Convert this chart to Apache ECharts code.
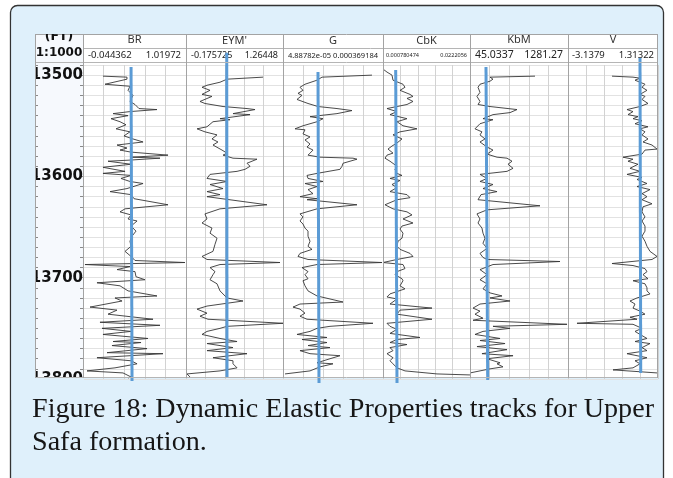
<!DOCTYPE html>
<html>
<head>
<meta charset="utf-8">
<title>Dynamic Elastic Properties tracks</title>
<script src="https://cdn.jsdelivr.net/npm/echarts@6.0.0/dist/echarts.min.js"></script>
<style>
  html, body { margin: 0; padding: 0; background: #ffffff; }
  #chart { width: 673px; height: 478px; }
</style>
</head>
<body>
<div id="chart"></div>
<script>
// ---------- depth scale (ft) ----------
const depthMin = 13490;
const depthMax = 13800;
const depthStep = 10;
const depthLabels = [13500, 13600, 13700, 13800];

// ---------- track headers ----------
const trackNames = ['BR', "EYM'", 'G', 'CbK', 'KbM', 'V'];
const scaleMinLabels = ['-0.044362', '-0.175725', '4.88782e-05', '0.000780474', '45.0337', '-3.1379'];
const scaleMaxLabels = ['1.01972', '1.26448', '0.000369184', '0.0222056', '1281.27', '1.31322'];
const scaleMin = [-0.044362, -0.175725, 4.88782e-05, 0.000780474, 45.0337, -3.1379];
const scaleMax = [1.01972, 1.26448, 0.000369184, 0.0222056, 1281.27, 1.31322];

// ---------- log curves (depth in ft, value in track units) ----------
const brDepth = [13501,13502,13504,13509,13511,13515,13520,13526,13529,13533,
  13534,13536,13538,13540,13543,13546,13549,13553,13556,13560,
  13563,13566,13569,13572,13574,13576,13579,13581,13582,13584,
  13585,13588,13591,13595,13597,13599,13602,13605,13607,13612,
  13615,13618,13622,13628,13632,13635,13638,13642,13644,13649,
  13654,13659,13664,13669,13674,13679,13683,13685,13687,13689,
  13692,13694,13699,13702,13705,13708,13713,13718,13720,13723,
  13729,13732,13736,13741,13744,13747,13750,13753,13756,13760,
  13763,13764,13767,13770,13774,13775,13779,13782,13785,13789,
  13792,13794,13798,13799];
const brValue = [0.162,0.410,0.410,0.183,0.441,0.421,0.472,0.441,0.493,0.534,
  0.720,0.441,0.266,0.421,0.245,0.338,0.400,0.297,0.441,0.379,
  0.472,0.576,0.307,0.410,0.338,0.452,0.834,0.462,0.751,0.421,
  0.214,0.452,0.162,0.390,0.162,0.452,0.348,0.441,0.576,0.410,
  0.235,0.452,0.483,0.834,0.390,0.338,0.452,0.421,0.514,0.452,
  0.503,0.462,0.441,0.452,0.390,0.452,0.493,1.009,-0.024,0.441,
  0.307,0.493,0.503,0.596,0.100,0.338,0.421,0.720,0.286,0.359,
  0.028,0.307,0.214,0.679,0.131,0.751,0.152,0.452,0.162,0.627,
  0.266,0.555,0.255,0.617,0.204,0.782,0.100,0.452,0.514,0.286,
  -0.003,0.369,0.452,0.421];

const eymDepth = [13502,13504,13507,13510,13512,13515,13519,13521,13526,13528,
  13531,13533,13534,13538,13539,13543,13544,13546,13551,13553,
  13556,13559,13563,13566,13569,13574,13577,13579,13582,13583,
  13587,13590,13593,13595,13598,13602,13605,13608,13612,13615,
  13618,13620,13628,13632,13637,13642,13646,13651,13656,13661,
  13667,13674,13679,13682,13685,13687,13690,13694,13697,13702,
  13706,13713,13720,13723,13728,13731,13735,13738,13741,13745,
  13748,13750,13753,13756,13760,13763,13765,13769,13772,13775,
  13779,13782,13785,13789,13792,13795,13798];
const eymValue = [0.968,0.433,0.329,0.136,0.062,0.181,0.062,0.210,0.032,0.106,
  0.374,0.730,0.849,0.522,0.775,0.329,0.478,0.225,0.136,-0.012,
  0.106,0.285,0.210,0.299,0.225,0.359,0.433,0.374,0.522,0.878,
  0.730,0.775,0.700,0.582,0.181,0.136,0.433,0.181,0.374,0.136,
  0.329,0.136,1.027,0.329,0.106,0.136,0.062,0.210,0.181,0.285,
  0.255,0.225,0.062,0.136,1.220,0.329,0.181,0.255,0.225,0.181,
  0.285,0.329,0.433,0.671,0.136,-0.012,0.136,0.032,0.151,1.265,
  0.433,0.329,0.136,0.062,0.329,0.582,0.136,0.522,0.136,0.730,
  0.225,0.522,0.522,0.582,0.329,-0.161,-0.116];

const gDepth = [13500,13502,13505,13509,13512,13515,13518,13520,13524,13528,
  13531,13533,13535,13538,13541,13543,13546,13550,13553,13554,
  13558,13561,13564,13568,13571,13574,13577,13579,13581,13582,
  13583,13587,13590,13593,13597,13599,13602,13605,13607,13610,
  13613,13617,13620,13622,13623,13628,13632,13637,13640,13644,
  13647,13651,13654,13659,13664,13669,13672,13676,13679,13682,
  13685,13687,13690,13694,13697,13701,13703,13708,13713,13718,
  13721,13724,13726,13729,13731,13735,13738,13741,13745,13748,
  13750,13753,13756,13759,13761,13764,13767,13769,13772,13775,
  13777,13780,13784,13785,13788,13792,13795];
const gValue = [3.339e-4,1.738e-4,1.578e-4,1.193e-4,1.033e-4,1.129e-4,0.969e-4,1.097e-4,0.937e-4,1.290e-4,
  1.610e-4,2.218e-4,2.699e-4,2.218e-4,1.354e-4,1.770e-4,1.578e-4,1.129e-4,0.873e-4,1.193e-4,
  1.129e-4,1.354e-4,1.193e-4,1.354e-4,1.258e-4,1.450e-4,1.354e-4,1.290e-4,1.674e-4,2.731e-4,
  2.859e-4,2.411e-4,2.379e-4,2.314e-4,1.578e-4,1.258e-4,1.290e-4,1.770e-4,1.193e-4,1.578e-4,
  1.290e-4,1.450e-4,1.033e-4,1.578e-4,1.258e-4,2.859e-4,1.578e-4,1.033e-4,1.129e-4,1.033e-4,
  1.129e-4,1.193e-4,1.290e-4,1.290e-4,1.354e-4,1.290e-4,1.418e-4,1.033e-4,0.969e-4,1.290e-4,
  3.660e-4,1.578e-4,1.097e-4,1.290e-4,1.193e-4,1.290e-4,1.129e-4,1.193e-4,1.290e-4,1.578e-4,
  1.994e-4,2.411e-4,1.033e-4,0.809e-4,1.033e-4,1.193e-4,1.033e-4,1.258e-4,3.371e-4,1.994e-4,
  1.578e-4,1.354e-4,0.937e-4,1.898e-4,1.097e-4,1.898e-4,1.290e-4,1.994e-4,1.033e-4,1.354e-4,
  2.314e-4,1.994e-4,1.578e-4,2.090e-4,1.674e-4,1.354e-4,0.553e-4];

const cbkDepth = [13494,13497,13500,13505,13509,13512,13515,13519,13521,13523,
  13526,13529,13533,13536,13539,13543,13546,13550,13553,13556,
  13559,13563,13567,13570,13573,13577,13579,13582,13585,13590,
  13593,13597,13599,13602,13604,13608,13611,13615,13618,13621,
  13623,13628,13632,13635,13638,13642,13646,13649,13652,13656,
  13661,13664,13669,13672,13676,13679,13682,13685,13687,13691,
  13694,13697,13701,13703,13708,13711,13716,13719,13721,13726,
  13730,13732,13736,13741,13745,13748,13751,13755,13759,13761,
  13764,13766,13769,13772,13775,13779,13782,13785,13789,13792,
  13795,13796];
const cbkValue = [0.780e-3,1.765e-3,2.996e-3,3.243e-3,5.705e-3,6.198e-3,4.966e-3,7.429e-3,8.168e-3,6.690e-3,
  8.168e-3,6.690e-3,1.765e-3,4.228e-3,2.504e-3,6.690e-3,4.228e-3,5.705e-3,9.153e-3,4.966e-3,
  3.243e-3,5.459e-3,4.228e-3,2.996e-3,2.011e-3,3.243e-3,1.765e-3,1.273e-3,2.504e-3,4.228e-3,
  3.735e-3,4.228e-3,5.459e-3,2.504e-3,4.966e-3,2.996e-3,4.228e-3,2.504e-3,6.690e-3,7.429e-3,
  4.228e-3,1.273e-3,3.243e-3,6.690e-3,7.922e-3,5.705e-3,8.168e-3,5.459e-3,4.966e-3,5.705e-3,
  5.459e-3,4.474e-3,4.228e-3,4.966e-3,7.429e-3,8.168e-3,4.228e-3,0.780e-3,5.705e-3,6.198e-3,
  4.228e-3,3.735e-3,5.459e-3,5.705e-3,4.966e-3,6.198e-3,2.504e-3,1.765e-3,4.228e-3,2.504e-3,
  12.847e-3,4.966e-3,4.228e-3,12.847e-3,1.765e-3,2.504e-3,4.228e-3,2.504e-3,9.892e-3,4.228e-3,
  2.504e-3,6.690e-3,2.504e-3,3.243e-3,1.765e-3,3.243e-3,2.504e-3,3.243e-3,4.228e-3,6.198e-3,
  14.078e-3,22.205e-3];

const kbmDepth = [13501,13502,13504,13506,13509,13512,13517,13521,13526,13529,
  13531,13534,13537,13539,13543,13544,13548,13553,13556,13559,
  13563,13566,13571,13574,13578,13581,13582,13585,13588,13592,
  13595,13598,13602,13605,13608,13612,13615,13618,13623,13629,
  13633,13637,13642,13646,13651,13656,13661,13666,13671,13676,
  13680,13682,13684,13687,13692,13697,13702,13706,13711,13715,
  13718,13720,13723,13726,13730,13733,13736,13740,13742,13746,
  13748,13750,13753,13756,13760,13762,13765,13768,13771,13775,
  13777,13780,13784,13785,13788,13790,13794];
const kbmValue = [865,297,335,297,171,146,171,133,171,146,
  297,638,550,335,209,335,171,108,196,171,
  234,171,260,335,260,386,512,575,524,588,
  512,171,260,171,335,209,386,184,146,928,
  260,133,171,146,196,209,234,209,260,171,
  209,260,1180,335,171,260,171,260,209,297,
  449,297,550,171,83,171,108,209,83,1269,
  335,550,209,108,424,171,487,133,512,196,
  588,260,424,386,461,297,45];

const vDepth = [13501,13502,13503,13505,13509,13512,13515,13519,13521,13524,
  13528,13531,13534,13536,13539,13541,13543,13545,13548,13551,
  13553,13556,13559,13563,13566,13569,13573,13574,13578,13581,
  13583,13585,13588,13592,13595,13598,13601,13603,13607,13610,
  13613,13617,13620,13623,13627,13630,13635,13640,13644,13649,
  13654,13659,13664,13669,13674,13679,13682,13686,13688,13691,
  13694,13697,13701,13703,13706,13710,13713,13716,13720,13723,
  13726,13730,13733,13736,13739,13741,13745,13746,13750,13753,
  13756,13760,13763,13765,13769,13772,13775,13779,13782,13785,
  13789,13791,13794];
const vValue = [-0.962,0.077,0.423,0.176,0.670,0.522,0.769,0.423,0.670,0.522,
  0.819,0.423,-0.220,0.077,-0.171,0.324,0.077,0.522,0.176,0.819,
  0.423,0.670,0.522,0.819,0.571,1.017,1.264,0.670,0.522,-0.418,
  0.077,-0.171,0.324,-0.072,0.423,-0.220,0.522,0.275,0.769,0.275,
  0.918,0.522,0.769,0.522,1.017,0.571,0.522,0.670,0.522,0.670,
  0.670,0.522,0.670,0.769,0.918,1.264,1.017,-0.962,0.077,0.670,
  0.769,0.571,0.819,0.077,0.670,0.769,0.769,0.918,0.275,-0.072,
  0.176,0.077,0.423,0.670,-0.072,0.275,-2.693,0.077,0.522,0.176,
  0.423,0.769,0.176,0.918,0.522,0.769,-0.220,0.769,0.176,0.423,
  0.077,-0.912,1.264];

// ---------- cut-off reference lines (value at top / bottom end, depth of ends) ----------
const cutValueTop = [0.452, 0.429, 1.610e-4, 3.908e-3, 246.9, 0.423];
const cutValueBottom = [0.462, 0.433, 1.642e-4, 4.228e-3, 268.3, 0.458];
const cutDepthTop = [13492, 13478, 13497, 13495, 13492, 13483];
const cutDepthBottom = [13802, 13798, 13804, 13804, 13801, 13794];

// ---------- caption ----------
const captionLines = ['Figure 18: Dynamic Elastic Properties tracks for Upper', 'Safa formation.'];

// ---------- layout ----------
const trackDepths = [brDepth, eymDepth, gDepth, cbkDepth, kbmDepth, vDepth];
const trackValues = [brValue, eymValue, gValue, cbkValue, kbmValue, vValue];
const panel = { left: 35, right: 658, top: 34, titleBottom: 48, headerBottom: 63, bottom: 378 };
const plotTop = 65, plotBottom = 379;          // depth 13490 .. 13800
const trackEdges = [83, 186, 283, 383, 470, 568, 658];
const scaleFontSize = [9.5, 9, 7.5, 5.5, 10.5, 9.5];
const scaleLabelMargin = [5, 5, 5.5, 7, 4, 5];
const scaleLabelPad = [5, 5, 5, 3, 5, 4];
const pageBlue = '#dff0fb';
const sepColor = '#a3a3a3';
const uiFont = '"Noto Sans", "Open Sans", sans-serif';

const plotHeight = plotBottom - plotTop;
const grids = [{ left: panel.left, top: plotTop, width: trackEdges[0] - panel.left, height: plotHeight }];
const xAxes = [{ type: 'value', gridIndex: 0, min: 0, max: 1, show: false }];
const depthAxisBase = {
  type: 'value', inverse: true, min: depthMin, max: depthMax, interval: depthStep,
  axisLine: { show: false }, splitLine: { show: false },
  axisTick: { show: true, inside: true, length: 3, lineStyle: { color: '#8a8a8a' } }
};
const yAxes = [
  Object.assign({}, depthAxisBase, { gridIndex: 0, position: 'left', axisLabel: { show: false } }),
  Object.assign({}, depthAxisBase, {
    gridIndex: 0, position: 'right',
    axisLabel: {
      show: true, inside: true, margin: 0,
      formatter: v => depthLabels.indexOf(v) >= 0 ? String(v) : '',
      fontFamily: '"DejaVu Sans", sans-serif', fontWeight: 'bold', fontSize: 15, color: '#111'
    }
  })
];
const series = [];

trackNames.forEach((name, i) => {
  const left = trackEdges[i], right = trackEdges[i + 1];
  grids.push({ left: left, top: plotTop, width: right - left, height: plotHeight });
  const g = i + 1;
  // frame axis: five equal divisions plus the scale end labels and the track title
  xAxes.push({
    type: 'value', gridIndex: g, position: 'top', min: 0, max: 1, interval: 0.2,
    axisLine: { show: false }, axisTick: { show: false },
    splitLine: { show: true, lineStyle: { color: '#d2d2d2', width: 1 } },
    axisLabel: {
      show: true, showMinLabel: true, showMaxLabel: true,
      alignMinLabel: 'left', alignMaxLabel: 'right',
      margin: scaleLabelMargin[i], fontSize: scaleFontSize[i], fontFamily: uiFont, color: '#222',
      padding: [0, scaleLabelPad[i], 0, scaleLabelPad[i]],
      formatter: v => Math.abs(v) < 1e-9 ? scaleMinLabels[i] : (Math.abs(v - 1) < 1e-9 ? scaleMaxLabels[i] : '')
    },
    name: name, nameLocation: 'middle', nameGap: 24,
    nameTextStyle: { fontFamily: uiFont, fontSize: 11, color: '#333', verticalAlign: 'middle' }
  });
  // data axis in the track's own units
  xAxes.push({ type: 'value', gridIndex: g, position: 'top', min: scaleMin[i], max: scaleMax[i], show: false });
  yAxes.push({
    type: 'value', gridIndex: g, inverse: true, min: depthMin, max: depthMax, interval: depthStep,
    axisLine: { show: false }, axisTick: { show: false }, axisLabel: { show: false },
    splitLine: { show: true, lineStyle: { color: '#e2e2e2', width: 1 } }
  });
  const dataAxis = 2 + i * 2;
  const depths = trackDepths[i], values = trackValues[i];
  series.push({
    type: 'line', name: name, xAxisIndex: dataAxis, yAxisIndex: 2 + i,
    data: values.map((v, k) => [v, depths[k]]),
    symbol: 'none', silent: true, animation: false, z: 3,
    lineStyle: { color: '#363636', width: 0.9 }
  });
  series.push({
    type: 'line', name: name + ' cut-off', xAxisIndex: dataAxis, yAxisIndex: 2 + i,
    data: [[cutValueTop[i], cutDepthTop[i]], [cutValueBottom[i], cutDepthBottom[i]]],
    symbol: 'none', silent: true, animation: false, clip: false, z: 6,
    lineStyle: { color: '#5b9bd5', width: 3 }
  });
});

// caption width fitted to the text block
const measureCtx = document.createElement('canvas').getContext('2d');
const captionSize = 27;
const captionFamily = '"Liberation Serif", serif';
measureCtx.font = captionSize + 'px ' + captionFamily;
const captionScale = 622 / measureCtx.measureText(captionLines[0]).width;

const hLine = (x1, x2, y, color, z) => ({ type: 'line', z: z || 8, silent: true,
  shape: { x1: x1, y1: y + 0.5, x2: x2, y2: y + 0.5 }, style: { stroke: color || sepColor, lineWidth: 1 } });
const vLine = (x, y1, y2, color, z) => ({ type: 'line', z: z || 8, silent: true,
  shape: { x1: x + 0.5, y1: y1, x2: x + 0.5, y2: y2 }, style: { stroke: color || sepColor, lineWidth: 1 } });

const graphics = [
  // page frame
  { type: 'rect', z: -10, silent: true, shape: { x: 10.5, y: 5.5, width: 653, height: 500, r: [7, 7, 0, 0] },
    style: { fill: pageBlue, stroke: '#333333', lineWidth: 1.3 } },
  // chart panel
  { type: 'rect', z: -9, silent: true,
    shape: { x: panel.left, y: panel.top, width: panel.right - panel.left, height: panel.bottom - panel.top },
    style: { fill: '#ffffff' } },
  { type: 'rect', z: -8, silent: true,
    shape: { x: panel.left, y: panel.top, width: trackEdges[0] - panel.left, height: panel.bottom - panel.top },
    style: { fill: '#f6f9fd' } },
  hLine(panel.left, panel.right, panel.top),
  hLine(trackEdges[0], panel.right, panel.titleBottom, '#b5b5b5'),
  hLine(panel.left, panel.right, panel.headerBottom - 1, '#b5b5b5'),
  hLine(panel.left, panel.right, panel.bottom - 1, '#b5b5b5'),
  vLine(panel.left, panel.top, panel.bottom),
  vLine(panel.right - 1, panel.top, panel.bottom)
].concat(trackEdges.slice(0, -1).map(x => vLine(x, panel.top, panel.bottom)));

graphics.push(
  { type: 'text', z: 12, silent: true, x: 59, y: 37,
    style: { text: '(FT)', fill: '#111', font: 'bold 12.5px "DejaVu Sans", sans-serif',
      textAlign: 'center', textVerticalAlign: 'middle', align: 'center', verticalAlign: 'middle' } },
  { type: 'text', z: 12, silent: true, x: 59, y: 52.5,
    style: { text: '1:1000', fill: '#111', font: 'bold 12px "DejaVu Sans", sans-serif',
      textAlign: 'center', textVerticalAlign: 'middle', align: 'center', verticalAlign: 'middle' } },
  // trims that keep header and depth labels inside the panel
  { type: 'rect', z: 20, silent: true, shape: { x: 11.5, y: 20, width: panel.left - 11.5, height: 380 }, style: { fill: pageBlue } },
  { type: 'rect', z: 20, silent: true, shape: { x: panel.left, y: 20, width: trackEdges[0] - panel.left + 1, height: panel.top - 20 }, style: { fill: pageBlue } },
  { type: 'rect', z: 20, silent: true, shape: { x: panel.left, y: panel.bottom, width: trackEdges[0] - panel.left + 1, height: 14 }, style: { fill: pageBlue } }
);

captionLines.forEach((line, k) => {
  graphics.push({
    type: 'text', z: 25, silent: true, x: 32, y: 410 + k * 33, scaleX: captionScale,
    style: { text: line, fill: '#161616', font: captionSize + 'px ' + captionFamily,
      textAlign: 'left', textVerticalAlign: 'middle', align: 'left', verticalAlign: 'middle' }
  });
});

const chart = echarts.init(document.getElementById('chart'));
chart.setOption({
  backgroundColor: '#ffffff',
  animation: false,
  grid: grids,
  xAxis: xAxes,
  yAxis: yAxes,
  series: series,
  graphic: { elements: graphics }
});
</script>
</body>
</html>
